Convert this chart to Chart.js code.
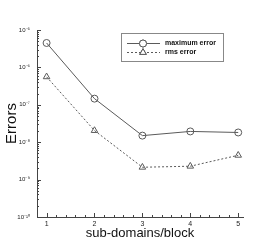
<!DOCTYPE html>
<html>
<head>
<meta charset="utf-8">
<script src="https://cdn.jsdelivr.net/npm/chart.js@4/dist/chart.umd.min.js"></script>
<style>
  html, body { margin: 0; padding: 0; background: #fff; }
  canvas { display: block; }
</style>
</head>
<body>
<canvas id="chart" width="277" height="246"></canvas>
<script>
// --- Data ---
const xValues = [1, 2, 3, 4, 5];
const maxError = [4.5e-6, 1.46e-7, 1.5e-8, 1.94e-8, 1.82e-8];
const rmsError = [5.6e-7, 2.05e-8, 2.14e-9, 2.28e-9, 4.47e-9];
const seriesNames = ['maximum error', 'rms error'];
const xMajorTicks = [1, 2, 3, 4, 5];
const yDecades = [-10, -9, -8, -7, -6, -5];
const xTitle = 'sub-domains/block';
const yTitle = 'Errors';

const FONT = 'Liberation Sans, Arial, Helvetica, sans-serif';
const LINE = '#5a5a5a';
const SUP = { '-': '⁻', '0': '⁰', '1': '¹', '2': '²', '3': '³', '4': '⁴', '5': '⁵', '6': '⁶', '7': '⁷', '8': '⁸', '9': '⁹' };

function pow_label(v) {
  const e = Math.log10(v);
  if (Math.abs(e - Math.round(e)) > 1e-6) return '';
  return '10' + String(Math.round(e)).split('').map(c => SUP[c]).join('');
}

// --- Plugins ---
// tick marks pointing into the plot, like the original
const inner_ticks = {
  id: 'inner_ticks',
  afterDraw(chart) {
    const ctx = chart.ctx, a = chart.chartArea;
    const xs = chart.scales.x, ys = chart.scales.y;
    ctx.save();
    ctx.strokeStyle = '#444';
    ctx.lineWidth = 1;
    ctx.beginPath();
    xs.ticks.forEach(t => {
      const px = Math.round(xs.getPixelForValue(t.value)) + 0.5;
      const len = t.major ? 4 : 2;
      ctx.moveTo(px, a.bottom);
      ctx.lineTo(px, a.bottom - len);
    });
    ys.ticks.forEach(t => {
      const py = Math.round(ys.getPixelForValue(t.value)) + 0.5;
      const len = t.major ? 4 : 2;
      ctx.moveTo(a.left, py);
      ctx.lineTo(a.left + len, py);
    });
    ctx.stroke();
    ctx.restore();
  }
};

// boxed legend in the upper right
const box_legend = {
  id: 'box_legend',
  afterDraw(chart) {
    const ctx = chart.ctx;
    const bx = 121, by = 33, bw = 102, bh = 28;
    ctx.save();
    ctx.fillStyle = '#fff';
    ctx.fillRect(bx, by, bw, bh);
    ctx.strokeStyle = '#888';
    ctx.lineWidth = 1;
    ctx.strokeRect(bx + 0.5, by + 0.5, bw, bh);
    chart.data.datasets.forEach((ds, i) => {
      const y = by + 10.5 + i * 9;
      ctx.strokeStyle = LINE;
      ctx.setLineDash(ds.borderDash || []);
      ctx.beginPath();
      ctx.moveTo(127, y);
      ctx.lineTo(160, y);
      ctx.stroke();
      ctx.setLineDash([]);
      Chart.helpers.drawPoint(ctx, {
        pointStyle: ds.pointStyle, radius: ds.pointRadius, borderWidth: 1, rotation: 0
      }, 143, y);
      ctx.fillStyle = '#fff';
      ctx.strokeStyle = LINE;
      ctx.fill();
      ctx.stroke();
      ctx.fillStyle = '#111';
      ctx.font = 'bold 7px ' + FONT;
      ctx.textBaseline = 'middle';
      ctx.fillText(ds.label, 165, y);
    });
    ctx.restore();
  }
};

// --- Chart ---
const datasets = [
  {
    label: seriesNames[0],
    data: xValues.map((x, i) => ({ x, y: maxError[i] })),
    borderColor: LINE, borderWidth: 1,
    pointStyle: 'circle', pointRadius: 3.5,
    pointBorderColor: LINE, pointBackgroundColor: 'rgba(0,0,0,0)', pointBorderWidth: 1
  },
  {
    label: seriesNames[1],
    data: xValues.map((x, i) => ({ x, y: rmsError[i] })),
    borderColor: LINE, borderWidth: 1, borderDash: [2, 2],
    pointStyle: 'triangle', pointRadius: 3.8,
    pointBorderColor: LINE, pointBackgroundColor: 'rgba(0,0,0,0)', pointBorderWidth: 1
  }
];

new Chart(document.getElementById('chart'), {
  type: 'line',
  data: { datasets },
  plugins: [inner_ticks, box_legend],
  options: {
    responsive: false,
    animation: false,
    devicePixelRatio: 1,
    layout: { padding: { left: 0, top: 30, right: 34, bottom: 0 } },
    plugins: { legend: { display: false }, tooltip: { enabled: false } },
    scales: {
      x: {
        type: 'linear', min: 0.8, max: 5.1,
        afterBuildTicks: s => {
          const t = [];
          xMajorTicks.forEach(m => {
            t.push({ value: m, major: true });
            for (let k = 1; k < 5; k++) if (m + k * 0.2 <= 5.1) t.push({ value: m + k * 0.2, major: false });
          });
          s.ticks = t;
        },
        afterFit: s => { s.height = 29; },
        grid: { display: false, drawTicks: false },
        border: { display: true, color: '#444', width: 1 },
        ticks: {
          autoSkip: false, maxRotation: 0, padding: 3, color: '#222',
          font: { family: FONT, size: 7 },
          callback: v => (Math.abs(v - Math.round(v)) < 1e-6 ? String(Math.round(v)) : '')
        },
        title: { display: true, text: xTitle, color: '#111', font: { family: FONT, size: 13 }, padding: { top: 0, bottom: 5 } }
      },
      y: {
        type: 'logarithmic', min: 1e-10, max: 1e-5,
        afterBuildTicks: s => {
          const t = [];
          yDecades.forEach(e => {
            t.push({ value: Math.pow(10, e), major: true });
            if (e < -5) for (let m = 2; m < 10; m++) t.push({ value: m * Math.pow(10, e), major: false });
          });
          s.ticks = t;
        },
        afterFit: s => { s.width = 37; },
        grid: { display: false, drawTicks: false },
        border: { display: true, color: '#444', width: 1 },
        ticks: {
          autoSkip: false, padding: 7, color: '#222',
          font: { family: FONT, size: 6 },
          callback: v => pow_label(v)
        },
        title: { display: true, text: yTitle, color: '#111', font: { family: FONT, size: 15 }, padding: { top: 3, bottom: 0 } }
      }
    }
  }
});
</script>
</body>
</html>
